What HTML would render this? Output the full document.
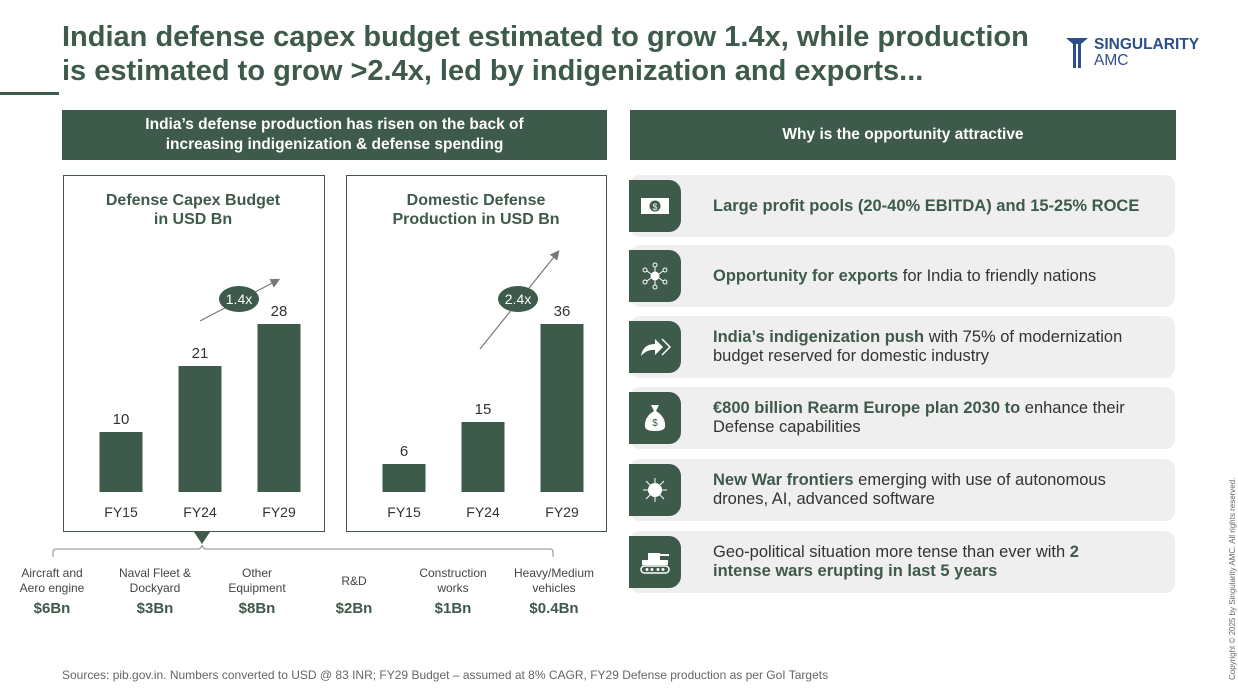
<!DOCTYPE html>
<html><head><meta charset="utf-8"><style>
body{margin:0;width:1238px;height:691px;background:#fff;font-family:"Liberation Sans",sans-serif;position:relative;overflow:hidden;color:#3d5a4a}
.a{position:absolute}
.title{left:62px;top:20px;font-size:29px;font-weight:bold;line-height:34px;color:#3d5a4a;white-space:nowrap}
.hdr{background:#3d5a4a;color:#fff;font-weight:bold;font-size:15.5px;text-align:center;display:flex;align-items:center;justify-content:center;line-height:20px}
.box{border:1px solid #3d5a4a;background:#fff}
.row{left:630px;width:545px;height:62px;background:#efefef;border-radius:10px}
.ic{left:629px;width:52px;height:52px;background:#3d5a4a;border-radius:0 12px 12px 0;display:flex;align-items:center;justify-content:center}
.rt{left:713px;width:440px;font-size:16.5px;line-height:19px;color:#333;display:flex;align-items:center;height:62px}
.rt b{color:#3d5a4a}
.cat{font-size:12px;color:#444;text-align:center;width:100px;line-height:15px}
.val{font-size:15px;font-weight:bold;text-align:center;width:100px;color:#3d5a4a}
</style></head><body>
<div class="a title">Indian defense capex budget estimated to grow 1.4x, while production<br>is estimated to grow &gt;2.4x, led by indigenization and exports...</div>
<div class="a" style="left:0;top:92px;width:59px;height:3px;background:#3d5a4a"></div>
<div class="a" style="left:1066px;top:37px;display:flex;align-items:center;gap:6px">
<svg width="22" height="30" viewBox="0 0 22 30"><path d="M0 0H22L15 6V30H12V6H10V30H7V6Z" fill="#2c4f8a"/></svg>
<div style="color:#2c4f8a;font-size:15.5px;font-weight:bold;line-height:16px">SINGULARITY<br><span style="font-weight:normal">AMC</span></div></div>

<div class="a hdr" style="left:62px;top:110px;width:545px;height:50px">India’s defense production has risen on the back of<br>increasing indigenization &amp; defense spending</div>
<div class="a hdr" style="left:630px;top:110px;width:546px;height:50px">Why is the opportunity attractive</div>

<div class="a box" style="left:63px;top:175px;width:260px;height:355px"></div>
<div class="a box" style="left:346px;top:175px;width:259px;height:355px"></div>
<svg class="a" style="left:0;top:0" width="620" height="560" id="charts"></svg>

<div class="a" style="left:194px;top:532px;width:0;height:0;border-left:8px solid transparent;border-right:8px solid transparent;border-top:12px solid #3d5a4a"></div>
<svg class="a" style="left:45px;top:545px" width="525" height="15"><path d="M8 12 V7 Q8 4 11 4 H153 Q156 4 157 0 Q158 4 161 4 H505 Q508 4 508 7 V12" fill="none" stroke="#888" stroke-width="1"/></svg>
<div id="brk"></div>

<div class="a" style="left:62px;top:668px;font-size:12px;color:#666">Sources: pib.gov.in. Numbers converted to USD @ 83 INR; FY29 Budget – assumed at 8% CAGR, FY29 Defense production as per GoI Targets</div>
<div class="a" style="left:1228px;top:680px;transform:rotate(-90deg);transform-origin:0 0;font-size:8px;color:#666;white-space:nowrap">Copyright © 2025 by Singularity AMC. All rights reserved.</div>

<div id="rows"></div>
<script>
const capexCats=["FY15","FY24","FY29"];
const capexVals=[10,21,28];
const prodCats=["FY15","FY24","FY29"];
const prodVals=[6,15,36];
const NS="http://www.w3.org/2000/svg";
const svg=document.getElementById('charts');
function el(t,a){const e=document.createElementNS(NS,t);for(const k in a)e.setAttribute(k,a[k]);svg.appendChild(e);return e;}
function txt(x,y,s,size,w,name){const e=el('text',{x:x,y:y,'text-anchor':'middle','font-size':size,'font-weight':w||'normal',fill:w?'#3d5a4a':'#333','font-family':'Liberation Sans, sans-serif'});e.textContent=s;

return e;}
function chart(x0,cats,vals,title,growth,gx,gy,ax1,ay1,ax2,ay2,key){
  const base=492,maxH=168,maxV=Math.max(...vals);
  const y=v=>base-v/maxV*maxH;
  txt(x0+130,205,title[0],16,'bold',key+'-title');txt(x0+130,224,title[1],16,'bold',key+'-title');
  cats.forEach((c,i)=>{const cx=x0+58+i*79;
    const r=el('rect',{x:cx-21.5,y:y(vals[i]),width:43,height:base-y(vals[i]),fill:'#3d5a4a'});
    
    
    txt(cx,y(vals[i])-8,String(vals[i]),15,null,key+'-value-label');
    txt(cx,517,c,14,null,key+'-x-label');});
  const ar=el('line',{x1:ax1,y1:ay1,x2:ax2,y2:ay2,stroke:'#777','stroke-width':1.2,'marker-end':'url(#arr)'});
  
  
  const ov=el('ellipse',{cx:gx,cy:gy,rx:20,ry:13,fill:'#3d5a4a'});
  
  
  const t=txt(gx,gy+5,growth,14,null,key+'-growth-text');t.setAttribute('fill','#fff');
}
el('defs',{}).innerHTML='<marker id="arr" markerWidth="8" markerHeight="8" refX="6" refY="4" orient="auto"><path d="M0 0L8 4L0 8Z" fill="#777"/></marker>';
chart(63,capexCats,capexVals,["Defense Capex Budget","in USD Bn"],"1.4x",239,299,200,321,278,280,'capex');
chart(346,prodCats,prodVals,["Domestic Defense","Production in USD Bn"],"2.4x",518,299,480,349,558,252,'production');

const brkCats=[["Aircraft and","Aero engine"],["Naval Fleet &","Dockyard"],["Other","Equipment"],["R&D",""],["Construction","works"],["Heavy/Medium","vehicles"]];
const brkVals=["$6Bn","$3Bn","$8Bn","$2Bn","$1Bn","$0.4Bn"];
const brk=document.getElementById('brk');
const bx=[52,155,257,354,453,554];
brkCats.forEach((c,i)=>{
 const d=document.createElement('div');d.className='a cat';d.style.left=(bx[i]-50)+'px';d.style.top=(c[1]?566:574)+'px';
 d.innerHTML=c[0]+(c[1]?'<br>'+c[1]:'');
 
 brk.appendChild(d);
 const v=document.createElement('div');v.className='a val';v.style.left=(bx[i]-50)+'px';v.style.top='600px';v.textContent=brkVals[i];
 
 brk.appendChild(v);
});

const icons=[
'<svg width="30" height="18"><rect x="1" y="1" width="28" height="16" fill="#fff"/><circle cx="15" cy="9" r="5.5" fill="#3d5a4a"/><text x="15" y="13" font-size="9" fill="#fff" text-anchor="middle" font-family="Liberation Sans">$</text></svg>',
'<svg width="30" height="30"><g stroke="#fff" fill="none"><circle cx="15" cy="15" r="4" fill="#fff"/><circle cx="15" cy="4" r="2"/><circle cx="15" cy="26" r="2"/><circle cx="5" cy="9" r="2"/><circle cx="25" cy="9" r="2"/><circle cx="5" cy="21" r="2"/><circle cx="25" cy="21" r="2"/><path d="M15 6V11M15 19V24M7 10L11 13M23 10L19 13M7 20L11 17M23 20L19 17"/></g></svg>',
'<svg width="32" height="22"><path d="M2 20Q4 8 16 8V3L24 11L16 19V14Q8 13 2 20Z" fill="#fff"/><path d="M23 3L31 11L23 19" stroke="#fff" fill="none" stroke-width="1.5"/></svg>',
'<svg width="26" height="30"><path d="M9 2H17L14 8Q24 14 23 24Q22 28 13 28Q4 28 3 24Q2 14 12 8Z" fill="#fff"/><text x="13" y="23" font-size="10" fill="#3d5a4a" text-anchor="middle" font-family="Liberation Sans">$</text></svg>',
'<svg width="30" height="30"><circle cx="15" cy="15" r="7" fill="#fff"/><g stroke="#fff" fill="none"><path d="M15 8V3M15 22V27M8 15H3M22 15H27M10 10L6 6M20 10L24 6M10 20L6 24M20 20L24 24"/></g></svg>',
'<svg width="32" height="26"><rect x="9" y="4" width="12" height="7" fill="#fff"/><path d="M21 6H30" stroke="#fff" stroke-width="2"/><rect x="3" y="11" width="26" height="5" fill="#fff"/><rect x="2" y="17" width="28" height="7" rx="3.5" fill="none" stroke="#fff" stroke-width="1.5"/><g fill="#fff"><circle cx="8" cy="20.5" r="1.5"/><circle cx="13" cy="20.5" r="1.5"/><circle cx="19" cy="20.5" r="1.5"/><circle cx="24" cy="20.5" r="1.5"/></g></svg>'];
const texts=[
'<b style="white-space:nowrap">Large profit pools (20-40% EBITDA) and 15-25% ROCE</b>',
'<span><b>Opportunity for exports</b> for India to friendly nations</span>',
'<span><b>India’s indigenization push</b> with 75% of modernization budget reserved for domestic industry</span>',
'<span><b>€800 billion Rearm Europe plan 2030 to</b> enhance their Defense capabilities</span>',
'<span><b>New War frontiers</b> emerging with use of autonomous drones, AI, advanced software</span>',
'<span>Geo-political situation more tense than ever with <b>2<br>intense wars erupting in last 5 years</b></span>'];
const rowTop=[175,245,316,387,459,531];
const rows=document.getElementById('rows');
rowTop.forEach((t,i)=>{
 const r=document.createElement('div');r.className='a row';r.style.top=t+'px';
 
 rows.appendChild(r);
 const c=document.createElement('div');c.className='a ic';c.style.top=(t+5)+'px';c.innerHTML=icons[i];
 
 rows.appendChild(c);
 const x=document.createElement('div');x.className='a rt';x.style.top=t+'px';x.innerHTML=texts[i];
 
 rows.appendChild(x);
});
</script>
</body></html>
